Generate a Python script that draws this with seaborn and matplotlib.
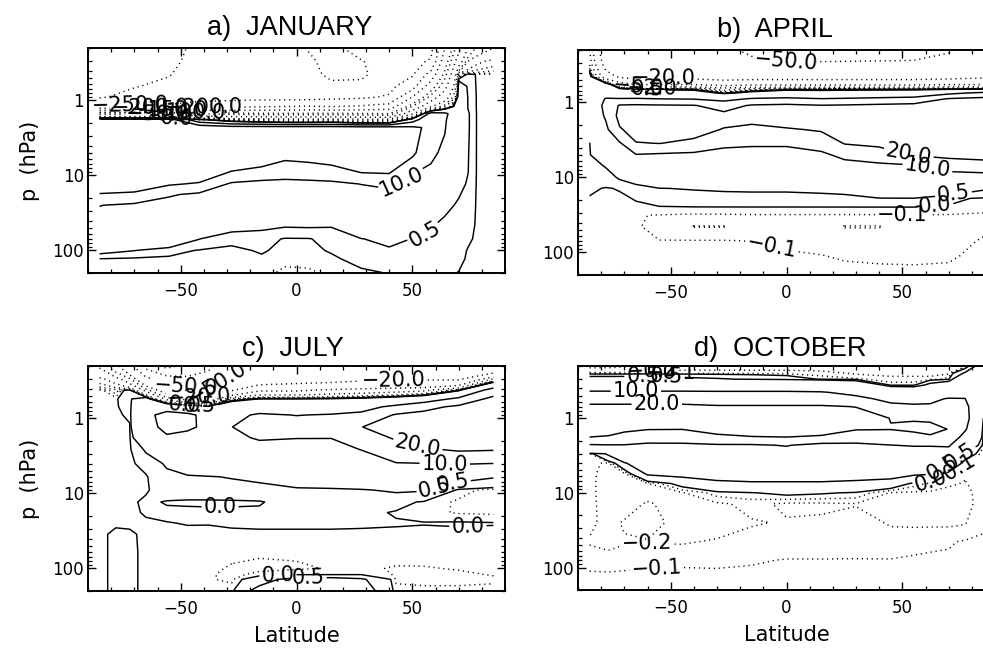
import numpy as np
import matplotlib
matplotlib.use("Agg")
import matplotlib.pyplot as plt
import matplotlib.ticker as mticker
import seaborn as sns

# ------------------------------------------------------------------
# DATA
# ------------------------------------------------------------------
NEG_LEVELS = [-300, -250, -200, -150, -100, -80, -50, -20, -10, -5, -2, -1, -0.5, -0.2, -0.1]
POS_LEVELS = [0.0, 0.5, 10.0, 20.0]

TITLES = ["a)  JANUARY", "b)  APRIL", "c)  JULY", "d)  OCTOBER"]
X_TICKS = [-50, 0, 50]
X_TICK_LABELS = ["\u221250", "0", "50"]
Y_TICKS = [1, 10, 100]
Y_TICK_LABELS = ["1", "10", "100"]

# ---- a) JANUARY : rows = pressure levels, columns = latitudes
LAT_A = [-85, -70, -55, -42, -28, -15, -5, 5, 15, 28, 40, 50, 58, 64, 70, 74, 78, 85]
P_A = [0.2, 0.3, 0.45, 0.65, 0.9, 1.2, 1.5, 1.8, 2.3, 5, 9, 13, 18, 25, 45, 70, 100, 130, 200]
Z_A_ROWS = [
    [-340, -335, -320, -285, -280, -278, -272, -248, -240, -265, -270, -268, -265, -150, -60, -20, -8, -5],
    [-335, -325, -312, -282, -278, -276, -268, -258, -235, -248, -268, -262, -245, -120, -30, -5, -2.5, -1.5],
    [-330, -315, -302, -280, -276, -274, -270, -265, -240, -245, -265, -255, -180, -90, -1, 0.2, -0.05, -0.05],
    [-320, -302, -290, -278, -274, -272, -270, -270, -262, -258, -262, -220, -120, -60, 2, 0.3, -0.05, -0.05],
    [-305, -285, -280, -270, -268, -268, -268, -268, -262, -258, -245, -150, -70, -30, 3, 0.45, -0.05, -0.05],
    [-245, -245, -240, -225, -215, -205, -202, -198, -203, -195, -180, -80, -22, -6, 4, 0.45, -0.05, -0.05],
    [-60, -60, -55, -80, -90, -95, -95, -95, -95, -98, -102, -22, 15, 12, 3.5, 0.6, -0.05, -0.05],
    [25, 25, 24, 2, -6, -9, -12, -12, -11, -15, -15, 5, 19, 11, 3, 0.6, -0.05, -0.05],
    [30, 30, 30, 28, 25, 25, 25, 25, 25, 24, 24, 22, 18, 10.5, 2.5, 0.6, -0.05, -0.05],
    [30, 30, 30, 30, 28, 28, 23, 24, 26, 27, 26, 22, 12, 8, 1.8, 0.55, -0.05, -0.05],
    [28, 28, 29, 26, 19.5, 16, 14, 14.5, 15.5, 20.5, 21, 10.5, 8, 5, 1.2, 0.52, -0.05, -0.05],
    [24, 24, 21, 19, 8.5, 7, 7, 7.5, 8, 10.2, 12, 7, 5.5, 3, 0.8, 0.4, -0.05, -0.05],
    [19.5, 18.5, 11, 8, 6, 5.2, 5.2, 5.2, 5.5, 6, 7, 4.5, 3.5, 1.8, 0.55, 0.3, -0.05, -0.05],
    [10.2, 8, 6, 4, 3, 2.5, 2.5, 2.5, 2.8, 3.5, 4, 3, 2, 0.7, 0.4, 0.25, -0.05, -0.05],
    [6, 5.2, 3.5, 1.8, 0.9, 0.7, 0.6, 0.62, 0.58, 1.5, 2.2, 1.1, 0.6, 0.3, 0.3, 0.15, -0.05, -0.05],
    [3, 2.5, 1.4, 0.52, 0.05, 0.15, -0.03, -0.02, 0.1, 0.48, 0.7, 0.48, 0.4, 0.2, 0.2, 0.05, -0.05, -0.05],
    [0.8, 0.52, 0.15, -0.03, -0.04, 0.02, -0.05, -0.05, 0.02, 0.2, 0.4, 0.35, 0.3, 0.15, 0.12, -0.02, -0.05, -0.05],
    [-0.02, -0.08, -0.08, -0.05, -0.05, -0.03, -0.07, -0.07, -0.04, 0.08, 0.2, 0.25, 0.2, 0.1, 0.06, -0.03, -0.05, -0.05],
    [-0.05, -0.06, -0.06, -0.06, -0.06, -0.06, -0.13, -0.12, -0.08, -0.05, 0.01, 0.15, 0.1, 0.05, -0.01, -0.04, -0.05, -0.05],
]

# ---- b) APRIL : one list per latitude (top -> bottom in pressure)
LAT_B = [-85, -78, -72, -65, -55, -40, -27, -15, 0, 15, 25, 40, 55, 70, 85]
P_B = [0.2, 0.3, 0.45, 0.57, 0.66, 0.75, 0.9, 1.1, 1.5, 2.3, 3.5, 5, 7, 10, 14, 19, 25, 32, 45, 70, 110, 150, 200]
Z_B_COLS = [
    [-5, -2.5, 2, 3, 3.5, 4, 4, 4, 3.5, 1.5, 0.45, 0.35, 0.25, 0.15, 0.05, -0.02, -0.04, -0.05, -0.06, -0.06, -0.06, -0.05, -0.05],
    [-30, -25, -15, 3, 5, 7, 10.5, 12, 11, 8, 5, 3, 0.55, 0.2, -0.02, -0.04, -0.05, -0.06, -0.07, -0.07, -0.06, -0.06, -0.05],
    [-40, -32, -22, -6, 1, 5.2, 10.5, 21, 23, 19, 9, 5.2, 2.5, 0.6, 0.02, -0.05, -0.06, -0.07, -0.08, -0.08, -0.07, -0.06, -0.06],
    [-42, -35, -24, -11, -0.3, 4, 10.8, 21.5, 25, 24, 19.5, 9.5, 4, 0.8, 0.3, 0.02, -0.05, -0.095, -0.09, -0.08, -0.07, -0.06, -0.06],
    [-44, -38, -22, -11, -0.3, 3.5, 10.2, 21, 26, 24, 20.2, 8.5, 4.5, 1.5, 0.48, 0.15, -0.02, -0.105, -0.13, -0.098, -0.07, -0.06, -0.06],
    [-46, -42, -24, -11, -0.4, 2.5, 9.8, 20.5, 26, 23, 18, 7.5, 4, 1.8, 0.55, 0.2, -0.01, -0.12, -0.205, -0.095, -0.08, -0.07, -0.06],
    [-47, -45, -26, -13, -3, -0.15, 7.5, 16, 23, 19.5, 12, 6.5, 3.5, 1.6, 0.6, 0.25, -0.01, -0.115, -0.205, -0.095, -0.08, -0.07, -0.06],
    [-53, -46, -25, -12, -1.5, 1.5, 11, 21, 24, 17, 11, 7, 4, 2.2, 0.6, 0.3, -0.01, -0.11, -0.15, -0.102, -0.085, -0.07, -0.06],
    [-60, -48, -25, -12, -0.6, 3, 12, 22, 26, 19, 11, 7, 4, 2.2, 0.6, 0.3, -0.01, -0.11, -0.14, -0.12, -0.085, -0.07, -0.06],
    [-62, -48, -25, -12, -0.6, 2.5, 10.5, 20.5, 25, 21, 13, 8.5, 4.5, 2.2, 0.65, 0.32, -0.01, -0.11, -0.15, -0.13, -0.098, -0.08, -0.07],
    [-60, -48, -25, -12, -0.6, 3, 11, 21, 26, 24, 20.5, 12, 7, 3, 0.7, 0.35, -0.01, -0.11, -0.205, -0.14, -0.11, -0.09, -0.08],
    [-58, -48, -25, -12, -0.6, 3.5, 12, 22, 26, 25, 22, 15, 8, 3.5, 1.2, 0.48, -0.01, -0.11, -0.205, -0.15, -0.12, -0.095, -0.085],
    [-56, -48, -25, -12, -0.6, 4, 13, 23, 26, 25.5, 24, 20.5, 9, 3.8, 1.3, 0.49, -0.01, -0.105, -0.15, -0.14, -0.12, -0.098, -0.085],
    [-51, -46, -24, -11, -0.4, 8, 21, 25, 27, 26, 24, 22, 15, 4, 1.3, 0.05, -0.02, -0.11, -0.13, -0.12, -0.11, -0.095, -0.09],
    [-40, -35, -22, -11, -0.3, 12, 23, 26, 27, 26, 25, 23, 16, 5.2, 0.6, -0.03, -0.08, -0.11, -0.11, -0.095, -0.08, -0.08, -0.08],
]

# ---- c) JULY : one list per latitude
LAT_C = [-85, -78, -72, -65, -56, -47, -38, -28, -16, 0, 15, 28, 43, 55, 70, 85]
P_C = [0.2, 0.3, 0.42, 0.55, 0.7, 0.9, 1.3, 1.8, 2.6, 4, 6, 9, 13, 18, 25, 35, 60, 100, 120, 140, 200]
Z_C_COLS = [
    [-5.5, -1.5, -0.05, -0.05, -0.05, -0.05, -0.05, -0.05, -0.05, -0.05, -0.05, -0.05, -0.05, -0.05, -0.05, -0.05, -0.05, -0.05, -0.05, -0.05, -0.05],
    [-15, -3, -0.3, -0.05, -0.05, -0.05, -0.05, -0.05, -0.05, -0.05, -0.05, -0.05, -0.05, -0.05, -0.03, 0.05, 0.05, 0.05, 0.05, 0.05, 0.05],
    [-40, -8, 0.2, 0.3, 0.2, 0.05, -0.03, -0.05, -0.05, -0.05, -0.05, -0.05, -0.05, -0.04, -0.03, 0.03, 0.05, 0.05, 0.05, 0.05, 0.05],
    [-90, -40, -6, 2, 4, 7, 6, 2.5, 0.6, 0.1, -0.03, -0.03, 0.05, 0.02, -0.03, -0.04, -0.05, -0.05, -0.05, -0.05, -0.05],
    [-105, -70, -30, -6, 5.2, 14, 13, 8.5, 3, 0.6, 0.3, 0.15, -0.02, 0.05, -0.01, -0.05, -0.06, -0.06, -0.06, -0.06, -0.06],
    [-95, -75, -40, -12, 3, 12, 11.5, 7, 3, 1.1, 0.4, 0.12, -0.03, 0.05, 0.01, -0.05, -0.06, -0.07, -0.07, -0.07, -0.07],
    [-85, -70, -45, -15, 1.1, 7, 8, 7, 4, 1.5, 0.45, 0.12, -0.03, 0.04, 0.01, -0.06, -0.07, -0.08, -0.09, -0.09, -0.08],
    [-60, -40, -21, -1.5, 5.2, 8, 9.9, 8, 5.2, 2.2, 0.55, 0.15, -0.03, 0.04, 0.02, -0.03, -0.08, -0.11, -0.12, -0.12, -0.05],
    [-40, -28, -11, 0.6, 6, 11, 13, 11, 6, 2.5, 0.7, 0.2, -0.02, 0.04, 0.03, -0.03, -0.09, -0.12, -0.08, 0.2, 0.8],
    [-30, -25, -11, 0.6, 6, 9.8, 14, 10.3, 6, 2.6, 1.1, 0.35, 0.12, 0.06, 0.03, -0.03, -0.09, -0.11, -0.05, 0.8, 1.1],
    [-28, -24, -9, 0.8, 6, 10.5, 14, 10.2, 7, 3, 1.1, 0.4, 0.12, 0.06, 0.03, -0.03, -0.09, -0.095, -0.04, 0.8, 1.1],
    [-25, -22, -8, 1.5, 7, 12, 19.8, 16, 10.2, 4, 1.3, 0.45, 0.12, 0.06, 0.03, -0.04, -0.08, -0.09, -0.03, 0.6, 0.9],
    [-25, -21, -7, 3, 12, 21, 25, 21, 16, 9.5, 2.2, 0.6, 0.08, -0.02, 0.02, -0.05, -0.08, -0.105, -0.11, -0.11, -0.08],
    [-24, -21, -6, 5.2, 17, 23, 26, 24, 19, 9.8, 1.5, 0.55, -0.03, -0.07, 0.01, -0.06, -0.09, -0.102, -0.11, -0.11, -0.09],
    [-30, -21, -0.3, 12, 22, 25, 27, 25, 21, 10.5, 0.8, -0.05, -0.12, -0.11, 0.02, -0.05, -0.09, -0.098, -0.105, -0.11, -0.09],
    [-35, -4, 14, 23, 25, 26, 26, 25, 20.5, 9.9, 0.55, -0.15, -0.15, -0.12, 0.01, -0.05, -0.09, -0.095, -0.098, -0.105, -0.09],
]

# ---- d) OCTOBER : one list per latitude
LAT_D = [-85, -77, -70, -60, -45, -30, -15, 0, 15, 30, 45, 55, 62, 70, 77, 85]
P_D = [0.2, 0.25, 0.3, 0.36, 0.45, 0.55, 0.7, 1.0, 1.4, 1.8, 2.3, 3, 4, 5.5, 7.5, 10, 14, 25, 45, 80, 120, 200]
Z_D_COLS = [
    [-0.6, -0.15, 1.1, 5.2, 11, 16, 22, 25, 23, 19.9, 9, -0.15, -0.17, -0.17, -0.17, -0.17, -0.17, -0.18, -0.21, -0.14, -0.09, -0.07],
    [-0.6, -0.15, 1.1, 5.2, 11, 16, 22, 25, 22, 19.5, 9.5, 0.6, -0.22, -0.25, -0.26, -0.26, -0.25, -0.23, -0.22, -0.17, -0.09, -0.07],
    [-0.55, -0.15, 1.1, 5.2, 11, 16, 22, 25, 21, 18, 9.5, 3, 0.3, -0.21, -0.24, -0.25, -0.24, -0.19, -0.21, -0.13, -0.09, -0.07],
    [-0.4, -0.13, 1.1, 5.2, 11, 16, 22, 25, 20.3, 15, 8, 4.5, 2.2, 0.6, -0.21, -0.23, -0.19, -0.17, -0.205, -0.12, -0.09, -0.07],
    [-0.3, -0.12, 0.8, 5.2, 11, 16, 22, 25, 20.2, 14, 8.5, 4, 2.2, 0.7, 0.1, -0.21, -0.24, -0.23, -0.21, -0.12, -0.08, -0.07],
    [-0.3, -0.12, 0.6, 5.2, 10.8, 15, 21, 26, 23, 18, 9, 4.5, 2.2, 0.9, 0.3, -0.05, -0.22, -0.24, -0.19, -0.12, -0.085, -0.07],
    [-0.3, -0.12, 0.4, 5.2, 10.8, 15, 21, 26, 24, 19.5, 9, 5.2, 2.5, 1.1, 0.35, -0.01, -0.17, -0.21, -0.15, -0.11, -0.08, -0.07],
    [-0.3, -0.12, 0.2, 5.2, 10.8, 15, 21, 26, 24, 19.9, 10.5, 6, 3, 1.1, 0.35, 0.05, -0.22, -0.19, -0.15, -0.095, -0.08, -0.07],
    [-0.3, -0.15, -0.03, 4, 10.5, 15, 21, 26, 23, 19, 7, 4, 2.5, 1.1, 0.35, 0.02, -0.22, -0.18, -0.15, -0.095, -0.08, -0.07],
    [-0.3, -0.22, -0.08, 2.2, 8, 12, 19.8, 24, 20.5, 15, 8, 4, 2.4, 0.9, 0.3, -0.02, -0.205, -0.16, -0.14, -0.095, -0.08, -0.07],
    [-0.3, -0.25, -0.15, -0.05, 3, 8, 12, 19.8, 20.3, 14, 9.9, 5.2, 2.5, 0.8, 0.2, -0.21, -0.24, -0.21, -0.15, -0.095, -0.08, -0.07],
    [-0.3, -0.25, -0.15, -0.05, 2.5, 8, 11, 19.5, 21.5, 17, 10.5, 6, 3, 0.6, -0.05, -0.22, -0.25, -0.22, -0.12, -0.09, -0.08, -0.07],
    [-0.3, -0.25, -0.15, 0.8, 4, 8.5, 11, 19.5, 21, 19.5, 10.5, 6, 2.5, 0.55, -0.12, -0.22, -0.26, -0.22, -0.11, -0.09, -0.08, -0.07],
    [-0.3, -0.22, -0.05, 1.5, 6, 10.5, 13, 17, 19.9, 16, 11, 5.2, 0.6, -0.12, -0.19, -0.22, -0.25, -0.22, -0.11, -0.08, -0.08, -0.07],
    [-0.3, 0.6, 2.2, 4, 7, 10.2, 12, 13, 11, 7, 2.2, 0.25, -0.15, -0.19, -0.205, -0.22, -0.24, -0.21, -0.09, -0.08, -0.08, -0.07],
    [1.1, 1.5, 2.2, 2.5, 2.5, 2.5, 2.2, 0.45, -0.05, -0.12, -0.15, -0.17, -0.17, -0.17, -0.17, -0.17, -0.15, -0.11, -0.09, -0.08, -0.08, -0.07],
]

# ------------------------------------------------------------------
# LAYOUT / STYLE (not data)
# ------------------------------------------------------------------
W_PX, H_PX = 983, 648
# axes boxes in pixels: (left, top, right, bottom)
BOXES = [(88, 48, 505, 273), (578, 50, 995, 275), (88, 366, 505, 591), (578, 366, 995, 590)]
TITLE_X = [0.484, 0.472, 0.491, 0.485]
TITLE_PAD_PX = [13, 13, 10, 10]
LABEL_POS = [
    {"neg": [(-72, 1.0), (-63, 1.25), (-55, 1.35), (-47, 1.45), (-60, 1.55), (-40, 1.2)],
     "pos": [(46, 13), (55, 55), (-52, 1.68)]},
    {"neg": [(0, 0.27), (-53, 0.47), (-64, 0.6), (-58, 0.64), (50, 29), (-6, 75)],
     "pos": [(53, 4.5), (61, 7), (72, 16), (-60, 0.68), (64, 22)]},
    {"neg": [(42, 0.31), (-48, 0.42), (-42, 0.5), (-36, 0.35)],
     "pos": [(52, 2.5), (64, 3.9), (-33, 15), (60, 9.5), (66, 7.5), (74, 27), (-8, 121), (5, 133), (-48, 0.62), (-42, 0.68)]},
    {"neg": [(-58, 0.23), (-50, 0.245), (-60, 50), (-56, 105), (70, 4.3)],
     "pos": [(-65, 0.43), (-56, 0.65), (-62, 0.28), (-52, 0.29), (62, 6.8), (68, 5), (74, 3)]},
]

sns.set_theme(style="ticks")
plt.rcParams.update({
    "font.family": ["DejaVu Sans"],
    "lines.dotted_pattern": [0.8, 2.6],
    "axes.linewidth": 1.4,
    "axes.edgecolor": "black",
    "axes.labelcolor": "black",
    "text.color": "black",
    "xtick.color": "black",
    "ytick.color": "black",
    "xtick.labelcolor": "black",
    "ytick.labelcolor": "black",
    "axes.unicode_minus": True,
    "savefig.facecolor": "white",
    "figure.facecolor": "white",
})

fig = plt.figure(figsize=(W_PX / 100, H_PX / 100), dpi=100)


def fmt(v):
    return f"{v:.1f}".replace("-", "\u2212")


panels = [
    (LAT_A, P_A, np.asarray(Z_A_ROWS, float)),
    (LAT_B, P_B, np.asarray(Z_B_COLS, float).T),
    (LAT_C, P_C, np.asarray(Z_C_COLS, float).T),
    (LAT_D, P_D, np.asarray(Z_D_COLS, float).T),
]

for i, (lat, pres, Z) in enumerate(panels):
    l, t, r, b = BOXES[i]
    ax = fig.add_axes([l / W_PX, 1 - b / H_PX, (r - l) / W_PX, (b - t) / H_PX])
    ax.set_facecolor("white")
    ax.set_yscale("log")
    ax.set_xlim(-90, 90)
    ax.set_ylim(200, 0.2)

    cs_neg = ax.contour(lat, pres, Z, levels=NEG_LEVELS, colors="black",
                        linewidths=1.05, linestyles="dotted")
    cs_pos = ax.contour(lat, pres, Z, levels=POS_LEVELS, colors="black",
                        linewidths=1.05, linestyles="solid")

    ax.set_xticks(X_TICKS)
    ax.set_xticklabels(X_TICK_LABELS)
    ax.xaxis.set_minor_locator(mticker.MultipleLocator(10))
    ax.yaxis.set_major_locator(mticker.FixedLocator(Y_TICKS))
    ax.yaxis.set_major_formatter(mticker.FixedFormatter(Y_TICK_LABELS))
    ax.yaxis.set_minor_locator(mticker.LogLocator(base=10, subs=np.arange(2, 10)))
    ax.yaxis.set_minor_formatter(mticker.NullFormatter())
    ax.tick_params(which="both", direction="in", top=True, right=True, color="black")
    ax.tick_params(which="major", length=5.5, width=1.0, labelsize=12, labelcolor="black")
    ax.tick_params(which="minor", length=2.8, width=0.9)
    ax.tick_params(axis="x", which="major", pad=6.5)
    ax.tick_params(axis="y", which="major", pad=3)
    for s in ax.spines.values():
        s.set_visible(True)
        s.set_color("black")
        s.set_linewidth(1.4)

    ax.clabel(cs_neg, fmt=fmt, fontsize=15, inline=True, inline_spacing=2,
              manual=LABEL_POS[i]["neg"], colors="black")
    ax.clabel(cs_pos, fmt=fmt, fontsize=15, inline=True, inline_spacing=2,
              manual=LABEL_POS[i]["pos"], colors="black")

    ax.text(TITLE_X[i], 1 + TITLE_PAD_PX[i] / (b - t), TITLES[i], transform=ax.transAxes,
            ha="center", va="baseline", fontsize=19.5, color="black",
            family=["Liberation Sans", "DejaVu Sans"])

    if i in (0, 2):
        ax.set_ylabel("p  (hPa)", fontsize=15, color="black")
        ax.yaxis.set_label_coords(-0.115, 0.5)
    if i in (2, 3):
        ax.set_xlabel("Latitude", fontsize=15, color="black")
        ax.xaxis.set_label_coords(0.5, -0.155)

fig.savefig("out.png", dpi=100)
